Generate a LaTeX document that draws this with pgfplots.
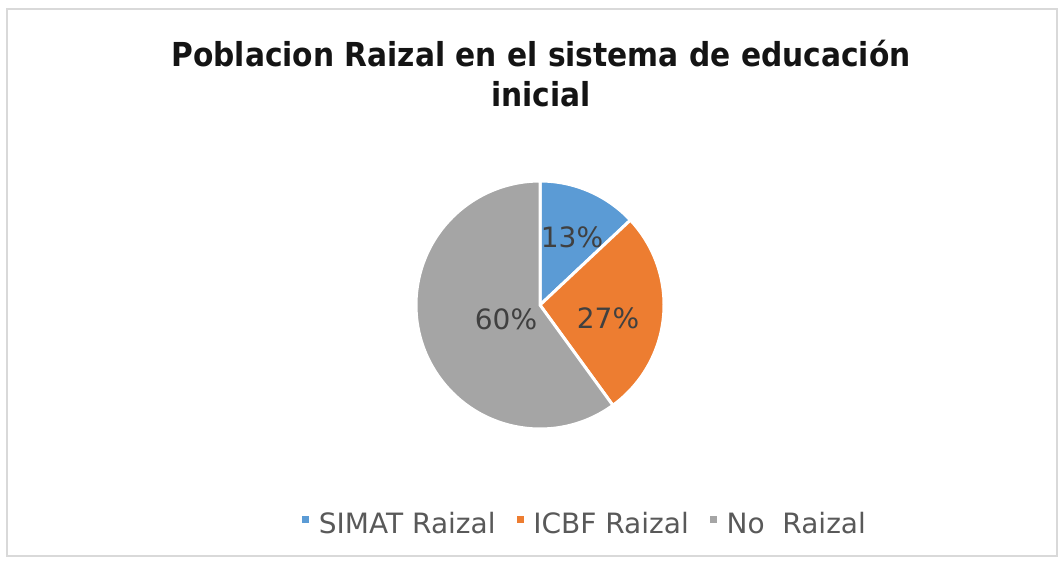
\documentclass[border=0pt]{standalone}
\usepackage{pgfplots}
\pgfplotsset{compat=1.18}
\usepackage{fontspec}
\setmainfont{DejaVu Sans}
\usepackage{graphicx}

\definecolor{simat}{HTML}{5B9BD5}
\definecolor{icbf}{HTML}{ED7D31}
\definecolor{noraizal}{HTML}{A5A5A5}
\definecolor{legtext}{HTML}{595959}
\definecolor{labtext}{HTML}{404040}
\definecolor{framegray}{HTML}{D9D9D9}

\begin{document}
\begin{tikzpicture}
\begin{axis}[
  x=0.5pt, y=0.5pt,
  xmin=0, xmax=1059, ymin=0, ymax=562,
  enlargelimits=false, hide axis, clip=false,
  legend columns=3,
  legend style={at={(axis cs:584,38)}, anchor=center, draw=none, fill=none,
    font=\fontsize{14}{16}\selectfont, text=legtext,
    nodes={inner sep=0pt},
    /tikz/every odd column/.style={column sep=5pt},
    /tikz/every even column/.style={column sep=10.5pt}},
  legend image code/.code={\fill[#1] (0pt,0.8pt) rectangle (3pt,3.8pt);},
]
% frame and page size
\path (axis cs:0,0) rectangle (axis cs:1059,562);
\draw[framegray, line width=0.6pt] (axis cs:7,553) rectangle (axis cs:1057,6);

\addlegendimage{simat}
\addlegendimage{icbf}
\addlegendimage{noraizal}

% slices: 13, 27, 60 (percent), clockwise from 12 o'clock
\filldraw[fill=simat, draw=white, line width=1.5pt]
  (axis cs:540,257) -- ++(90:62pt) arc[start angle=90, delta angle=-13*3.6, radius=62pt] -- cycle;
\filldraw[fill=icbf, draw=white, line width=1.5pt]
  (axis cs:540,257) -- ++(90-13*3.6:62pt) arc[start angle=90-13*3.6, delta angle=-27*3.6, radius=62pt] -- cycle;
\filldraw[fill=noraizal, draw=white, line width=1.5pt]
  (axis cs:540,257) -- ++(90-40*3.6:62pt) arc[start angle=90-40*3.6, delta angle=-60*3.6, radius=62pt] -- cycle;

\addplot[forget plot, only marks, mark=none, nodes near coords,
  point meta=explicit symbolic,
  nodes near coords style={anchor=center, inner sep=0pt, text=labtext,
    font=\fontsize{14}{16}\selectfont}]
  table[meta=lab] {
x y lab
572 325 13\%
608 243.5 27\%
506 242.5 60\%
};

\node[anchor=base, font=\bfseries\fontsize{16.5}{20}\selectfont, text=black!92]
  at (axis cs:541,495) {\scalebox{0.9}[1]{Poblacion Raizal en el sistema de educación}};
\node[anchor=base, font=\bfseries\fontsize{16.5}{20}\selectfont, text=black!92]
  at (axis cs:541,455) {\scalebox{0.9}[1]{inicial}};

\legend{SIMAT Raizal, ICBF Raizal, No\ \ Raizal}
\end{axis}
\end{tikzpicture}
\end{document}
